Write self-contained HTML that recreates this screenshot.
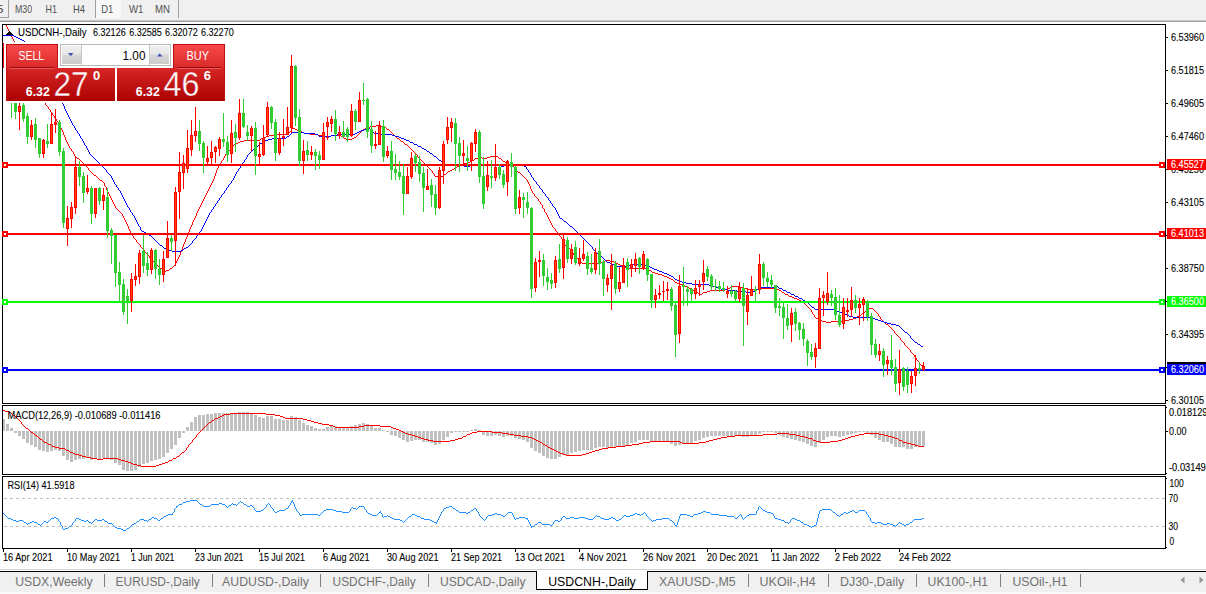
<!DOCTYPE html>
<html><head><meta charset="utf-8"><title>USDCNH-,Daily</title>
<style>html,body{margin:0;padding:0;background:#fff;overflow:hidden}svg{display:block}text{font-family:"Liberation Sans",sans-serif;white-space:pre}</style>
</head><body>
<svg width="1206" height="594" viewBox="0 0 1206 594">
<defs>
<linearGradient id="gTab" x1="0" y1="0" x2="0" y2="1"><stop offset="0" stop-color="#f94b4b"/><stop offset="1" stop-color="#d92a2a"/></linearGradient>
<linearGradient id="gPan" x1="0" y1="0" x2="0" y2="1"><stop offset="0" stop-color="#d62626"/><stop offset="1" stop-color="#ad0202"/></linearGradient>
<linearGradient id="gBtn" x1="0" y1="0" x2="0" y2="1"><stop offset="0" stop-color="#efefef"/><stop offset="0.45" stop-color="#e6e6e6"/><stop offset="0.5" stop-color="#d8d8d8"/><stop offset="1" stop-color="#cccccc"/></linearGradient>
<linearGradient id="gPanU" gradientUnits="userSpaceOnUse" x1="0" y1="68" x2="0" y2="101"><stop offset="0" stop-color="#d62626"/><stop offset="1" stop-color="#ad0202"/></linearGradient>
<clipPath id="cMain"><path d="M3 25H1165V403H3Z M4 42H227V103H4Z" clip-rule="evenodd"/></clipPath>
</defs>
<rect x="0" y="0" width="1206" height="594" fill="#fff" />
<rect x="0" y="0" width="1206" height="20" fill="#f0f0f0" />
<rect x="0" y="20" width="1206" height="1" fill="#c8c8c8" />
<rect x="0" y="21" width="1206" height="1" fill="#a0a0a0" />
<rect x="8" y="0" width="1" height="18" fill="#a0a0a0" />
<rect x="0" y="17" width="9" height="1" fill="#a0a0a0" />
<text x="-3.5" y="12.5" font-size="11" fill="#444" textLength="7" lengthAdjust="spacingAndGlyphs" >5</text>
<rect x="96" y="0" width="25" height="18" fill="#f8f8f8"/>
<rect x="95" y="0" width="1" height="18" fill="#a0a0a0" />
<text x="15" y="12.5" font-size="11" fill="#505050" textLength="17" lengthAdjust="spacingAndGlyphs" >M30</text>
<text x="45.5" y="12.5" font-size="11" fill="#505050" textLength="11.5" lengthAdjust="spacingAndGlyphs" >H1</text>
<text x="73" y="12.5" font-size="11" fill="#505050" textLength="12" lengthAdjust="spacingAndGlyphs" >H4</text>
<text x="101.3" y="12.5" font-size="11" fill="#505050" textLength="12" lengthAdjust="spacingAndGlyphs" >D1</text>
<text x="129" y="12.5" font-size="11" fill="#505050" textLength="14.5" lengthAdjust="spacingAndGlyphs" >W1</text>
<text x="155" y="12.5" font-size="11" fill="#505050" textLength="15" lengthAdjust="spacingAndGlyphs" >MN</text>
<rect x="178" y="0" width="1" height="18" fill="#a0a0a0" />
<g shape-rendering="crispEdges">
<rect x="2" y="24" width="1164" height="1" fill="#000" />
<rect x="2" y="24" width="1" height="525" fill="#000" />
<rect x="1165" y="24" width="1" height="525" fill="#000" />
<rect x="2" y="403" width="1164" height="1" fill="#000" />
<rect x="2" y="405" width="1164" height="1" fill="#000" />
<rect x="2" y="474" width="1164" height="1" fill="#000" />
<rect x="2" y="476" width="1164" height="1" fill="#000" />
<rect x="2" y="548" width="1164" height="1" fill="#000" />
<rect x="2" y="404" width="1164" height="1" fill="#fff" />
<rect x="2" y="475" width="1164" height="1" fill="#fff" />
</g>
<g shape-rendering="crispEdges">
<rect x="1166" y="37" width="2" height="1" fill="#000" />
<rect x="1166" y="70" width="2" height="1" fill="#000" />
<rect x="1166" y="103" width="2" height="1" fill="#000" />
<rect x="1166" y="136" width="2" height="1" fill="#000" />
<rect x="1166" y="169" width="2" height="1" fill="#000" />
<rect x="1166" y="202" width="2" height="1" fill="#000" />
<rect x="1166" y="235" width="2" height="1" fill="#000" />
<rect x="1166" y="268" width="2" height="1" fill="#000" />
<rect x="1166" y="301" width="2" height="1" fill="#000" />
<rect x="1166" y="334" width="2" height="1" fill="#000" />
<rect x="1166" y="367" width="2" height="1" fill="#000" />
<rect x="1166" y="400" width="2" height="1" fill="#000" />
<rect x="1166" y="431" width="2" height="1" fill="#000" />
<rect x="1166" y="407" width="1" height="1" fill="#000" />
<rect x="1166" y="473" width="1" height="1" fill="#000" />
<rect x="1166" y="478" width="1" height="1" fill="#000" />
<rect x="1166" y="547" width="1" height="1" fill="#000" />
<rect x="3" y="549" width="1" height="3" fill="#000" />
<rect x="67" y="549" width="1" height="3" fill="#000" />
<rect x="131" y="549" width="1" height="3" fill="#000" />
<rect x="195" y="549" width="1" height="3" fill="#000" />
<rect x="259" y="549" width="1" height="3" fill="#000" />
<rect x="323" y="549" width="1" height="3" fill="#000" />
<rect x="387" y="549" width="1" height="3" fill="#000" />
<rect x="451" y="549" width="1" height="3" fill="#000" />
<rect x="515" y="549" width="1" height="3" fill="#000" />
<rect x="579" y="549" width="1" height="3" fill="#000" />
<rect x="643" y="549" width="1" height="3" fill="#000" />
<rect x="707" y="549" width="1" height="3" fill="#000" />
<rect x="771" y="549" width="1" height="3" fill="#000" />
<rect x="835" y="549" width="1" height="3" fill="#000" />
<rect x="899" y="549" width="1" height="3" fill="#000" />
</g>
<text x="1171" y="41" font-size="10.4" fill="#000" textLength="33" lengthAdjust="spacingAndGlyphs"  stroke="#000" stroke-width="0.1">6.53960</text>
<text x="1171" y="74" font-size="10.4" fill="#000" textLength="33" lengthAdjust="spacingAndGlyphs"  stroke="#000" stroke-width="0.1">6.51815</text>
<text x="1171" y="107" font-size="10.4" fill="#000" textLength="33" lengthAdjust="spacingAndGlyphs"  stroke="#000" stroke-width="0.1">6.49605</text>
<text x="1171" y="140" font-size="10.4" fill="#000" textLength="33" lengthAdjust="spacingAndGlyphs"  stroke="#000" stroke-width="0.1">6.47460</text>
<text x="1171" y="173" font-size="10.4" fill="#000" textLength="33" lengthAdjust="spacingAndGlyphs"  stroke="#000" stroke-width="0.1">6.45250</text>
<text x="1171" y="206" font-size="10.4" fill="#000" textLength="33" lengthAdjust="spacingAndGlyphs"  stroke="#000" stroke-width="0.1">6.43105</text>
<text x="1171" y="239" font-size="10.4" fill="#000" textLength="33" lengthAdjust="spacingAndGlyphs"  stroke="#000" stroke-width="0.1">6.40895</text>
<text x="1171" y="272" font-size="10.4" fill="#000" textLength="33" lengthAdjust="spacingAndGlyphs"  stroke="#000" stroke-width="0.1">6.38750</text>
<text x="1171" y="305" font-size="10.4" fill="#000" textLength="33" lengthAdjust="spacingAndGlyphs"  stroke="#000" stroke-width="0.1">6.36540</text>
<text x="1171" y="338" font-size="10.4" fill="#000" textLength="33" lengthAdjust="spacingAndGlyphs"  stroke="#000" stroke-width="0.1">6.34395</text>
<text x="1171" y="371" font-size="10.4" fill="#000" textLength="33" lengthAdjust="spacingAndGlyphs"  stroke="#000" stroke-width="0.1">6.32185</text>
<text x="1171" y="404" font-size="10.4" fill="#000" textLength="33" lengthAdjust="spacingAndGlyphs"  stroke="#000" stroke-width="0.1">6.30105</text>
<text x="1169" y="416" font-size="10.4" fill="#000" textLength="38.5" lengthAdjust="spacingAndGlyphs"  stroke="#000" stroke-width="0.1">0.018129</text>
<text x="1169" y="435" font-size="10.4" fill="#000" textLength="17.5" lengthAdjust="spacingAndGlyphs"  stroke="#000" stroke-width="0.1">0.00</text>
<text x="1169" y="471" font-size="10.4" fill="#000" textLength="42" lengthAdjust="spacingAndGlyphs"  stroke="#000" stroke-width="0.1">-0.031494</text>
<text x="1169.5" y="487" font-size="10.4" fill="#000" textLength="14.2" lengthAdjust="spacingAndGlyphs"  stroke="#000" stroke-width="0.1">100</text>
<text x="1168.5" y="502" font-size="10.4" fill="#000" textLength="9.5" lengthAdjust="spacingAndGlyphs"  stroke="#000" stroke-width="0.1">70</text>
<text x="1168.5" y="530" font-size="10.4" fill="#000" textLength="9.5" lengthAdjust="spacingAndGlyphs"  stroke="#000" stroke-width="0.1">30</text>
<text x="1169.5" y="545" font-size="10.4" fill="#000" textLength="4.6" lengthAdjust="spacingAndGlyphs"  stroke="#000" stroke-width="0.1">0</text>
<text x="3" y="561" font-size="10.4" fill="#000" textLength="49.5" lengthAdjust="spacingAndGlyphs"  stroke="#000" stroke-width="0.1">16 Apr 2021</text>
<text x="67" y="561" font-size="10.4" fill="#000" textLength="53" lengthAdjust="spacingAndGlyphs"  stroke="#000" stroke-width="0.1">10 May 2021</text>
<text x="131" y="561" font-size="10.4" fill="#000" textLength="43.5" lengthAdjust="spacingAndGlyphs"  stroke="#000" stroke-width="0.1">1 Jun 2021</text>
<text x="195" y="561" font-size="10.4" fill="#000" textLength="48.5" lengthAdjust="spacingAndGlyphs"  stroke="#000" stroke-width="0.1">23 Jun 2021</text>
<text x="259" y="561" font-size="10.4" fill="#000" textLength="46" lengthAdjust="spacingAndGlyphs"  stroke="#000" stroke-width="0.1">15 Jul 2021</text>
<text x="323" y="561" font-size="10.4" fill="#000" textLength="46.5" lengthAdjust="spacingAndGlyphs"  stroke="#000" stroke-width="0.1">6 Aug 2021</text>
<text x="387" y="561" font-size="10.4" fill="#000" textLength="51.5" lengthAdjust="spacingAndGlyphs"  stroke="#000" stroke-width="0.1">30 Aug 2021</text>
<text x="451" y="561" font-size="10.4" fill="#000" textLength="51" lengthAdjust="spacingAndGlyphs"  stroke="#000" stroke-width="0.1">21 Sep 2021</text>
<text x="515" y="561" font-size="10.4" fill="#000" textLength="50" lengthAdjust="spacingAndGlyphs"  stroke="#000" stroke-width="0.1">13 Oct 2021</text>
<text x="579" y="561" font-size="10.4" fill="#000" textLength="48" lengthAdjust="spacingAndGlyphs"  stroke="#000" stroke-width="0.1">4 Nov 2021</text>
<text x="643" y="561" font-size="10.4" fill="#000" textLength="53" lengthAdjust="spacingAndGlyphs"  stroke="#000" stroke-width="0.1">26 Nov 2021</text>
<text x="707" y="561" font-size="10.4" fill="#000" textLength="51.5" lengthAdjust="spacingAndGlyphs"  stroke="#000" stroke-width="0.1">20 Dec 2021</text>
<text x="771" y="561" font-size="10.4" fill="#000" textLength="48.5" lengthAdjust="spacingAndGlyphs"  stroke="#000" stroke-width="0.1">11 Jan 2022</text>
<text x="835" y="561" font-size="10.4" fill="#000" textLength="46" lengthAdjust="spacingAndGlyphs"  stroke="#000" stroke-width="0.1">2 Feb 2022</text>
<text x="899" y="561" font-size="10.4" fill="#000" textLength="52" lengthAdjust="spacingAndGlyphs"  stroke="#000" stroke-width="0.1">24 Feb 2022</text>
<g shape-rendering="crispEdges">
<path d="M4 498.5H1165" stroke="#c0c0c0" stroke-width="1" stroke-dasharray="3 3" fill="none"/>
<path d="M4 526.5H1165" stroke="#c0c0c0" stroke-width="1" stroke-dasharray="3 3" fill="none"/>
<path d="M3 419h2V431h-2zM6 424h3V431h-3zM10 428h3V431h-3zM14 431h3V433h-3zM18 431h3V436h-3zM22 431h3V439h-3zM26 431h3V443h-3zM30 431h3V445h-3zM34 431h3V447h-3zM38 431h3V450h-3zM42 431h3V451h-3zM46 431h3V452h-3zM50 431h3V451h-3zM54 431h3V450h-3zM58 431h3V451h-3zM62 431h3V456h-3zM66 431h3V460h-3zM70 431h3V462h-3zM74 431h3V460h-3zM78 431h3V459h-3zM82 431h3V459h-3zM86 431h3V458h-3zM90 431h3V460h-3zM94 431h3V459h-3zM98 431h3V459h-3zM102 431h3V458h-3zM106 431h3V459h-3zM110 431h3V460h-3zM114 431h3V463h-3zM118 431h3V465h-3zM122 431h3V470h-3zM126 431h3V471h-3zM130 431h3V471h-3zM134 431h3V470h-3zM138 431h3V467h-3zM142 431h3V464h-3zM146 431h3V463h-3zM150 431h3V461h-3zM154 431h3V460h-3zM158 431h3V459h-3zM162 431h3V457h-3zM166 431h3V453h-3zM170 431h3V449h-3zM174 431h3V445h-3zM178 431h3V438h-3zM182 431h3V433h-3zM186 427h3V431h-3zM190 422h3V431h-3zM194 417h3V431h-3zM198 415h3V431h-3zM202 415h3V431h-3zM206 414h3V431h-3zM210 414h3V431h-3zM214 413h3V431h-3zM218 413h3V431h-3zM222 413h3V431h-3zM226 413h3V431h-3zM230 413h3V431h-3zM234 413h3V431h-3zM238 412h3V431h-3zM242 412h3V431h-3zM246 412h3V431h-3zM250 413h3V431h-3zM254 415h3V431h-3zM258 417h3V431h-3zM262 418h3V431h-3zM266 416h3V431h-3zM270 416h3V431h-3zM274 419h3V431h-3zM278 419h3V431h-3zM282 420h3V431h-3zM286 420h3V431h-3zM290 416h3V431h-3zM294 417h3V431h-3zM298 420h3V431h-3zM302 423h3V431h-3zM306 425h3V431h-3zM310 426h3V431h-3zM314 428h3V431h-3zM318 429h3V431h-3zM322 429h3V431h-3zM326 427h3V431h-3zM330 426h3V431h-3zM334 426h3V431h-3zM338 427h3V431h-3zM342 427h3V431h-3zM346 427h3V431h-3zM350 426h3V431h-3zM354 425h3V431h-3zM358 424h3V431h-3zM362 423h3V431h-3zM366 424h3V431h-3zM370 426h3V431h-3zM374 428h3V431h-3zM378 428h3V431h-3zM382 430h3V431h-3zM386 431h3V432h-3zM390 431h3V435h-3zM394 431h3V436h-3zM398 431h3V438h-3zM402 431h3V440h-3zM406 431h3V442h-3zM410 431h3V441h-3zM414 431h3V440h-3zM418 431h3V440h-3zM422 431h3V442h-3zM426 431h3V442h-3zM430 431h3V443h-3zM434 431h3V445h-3zM438 431h3V444h-3zM442 431h3V440h-3zM446 431h3V437h-3zM450 431h3V433h-3zM454 431h3V432h-3zM458 431h3V432h-3zM462 431h3V432h-3zM466 431h3V432h-3zM470 430h3V431h-3zM474 429h3V431h-3zM478 430h3V431h-3zM482 431h3V435h-3zM486 431h3V436h-3zM490 431h3V436h-3zM494 431h3V435h-3zM498 431h3V436h-3zM502 431h3V437h-3zM506 431h3V436h-3zM510 431h3V436h-3zM514 431h3V438h-3zM518 431h3V439h-3zM522 431h3V440h-3zM526 431h3V442h-3zM530 431h3V448h-3zM534 431h3V451h-3zM538 431h3V453h-3zM542 431h3V456h-3zM546 431h3V458h-3zM550 431h3V459h-3zM554 431h3V459h-3zM558 431h3V457h-3zM562 431h3V455h-3zM566 431h3V455h-3zM570 431h3V453h-3zM574 431h3V452h-3zM578 431h3V451h-3zM582 431h3V450h-3zM586 431h3V450h-3zM590 431h3V450h-3zM594 431h3V448h-3zM598 431h3V447h-3zM602 431h3V447h-3zM606 431h3V448h-3zM610 431h3V447h-3zM614 431h3V447h-3zM618 431h3V447h-3zM622 431h3V446h-3zM626 431h3V445h-3zM630 431h3V443h-3zM634 431h3V442h-3zM638 431h3V440h-3zM642 431h3V440h-3zM646 431h3V440h-3zM650 431h3V441h-3zM654 431h3V441h-3zM658 431h3V442h-3zM662 431h3V442h-3zM666 431h3V442h-3zM670 431h3V444h-3zM674 431h3V446h-3zM678 431h3V445h-3zM682 431h3V444h-3zM686 431h3V444h-3zM690 431h3V443h-3zM694 431h3V441h-3zM698 431h3V440h-3zM702 431h3V438h-3zM706 431h3V437h-3zM710 431h3V436h-3zM714 431h3V436h-3zM718 431h3V436h-3zM722 431h3V436h-3zM726 431h3V436h-3zM730 431h3V436h-3zM734 431h3V436h-3zM738 431h3V436h-3zM742 431h3V437h-3zM746 431h3V437h-3zM750 431h3V436h-3zM754 431h3V436h-3zM758 431h3V434h-3zM762 431h3V432h-3zM766 431h3V432h-3zM770 431h3V432h-3zM774 431h3V433h-3zM778 431h3V435h-3zM782 431h3V437h-3zM786 431h3V438h-3zM790 431h3V439h-3zM794 431h3V440h-3zM798 431h3V441h-3zM802 431h3V442h-3zM806 431h3V444h-3zM810 431h3V446h-3zM814 431h3V447h-3zM818 431h3V443h-3zM822 431h3V440h-3zM826 431h3V437h-3zM830 431h3V436h-3zM834 431h3V436h-3zM838 431h3V437h-3zM842 431h3V436h-3zM846 431h3V435h-3zM850 431h3V434h-3zM854 431h3V433h-3zM858 431h3V432h-3zM862 431h3V432h-3zM866 431h3V433h-3zM870 431h3V435h-3zM874 431h3V438h-3zM878 431h3V440h-3zM882 431h3V442h-3zM886 431h3V442h-3zM890 431h3V444h-3zM894 431h3V447h-3zM898 431h3V447h-3zM902 431h3V447h-3zM906 431h3V449h-3zM910 431h3V449h-3zM914 431h3V447h-3zM918 431h3V447h-3zM922 431h3V446h-3z" fill="#c0c0c0"/>
<path d="M329 425h4v1h-4zM364 425h16v1h-16zM556 451h2v1h-2zM592 451h3v1h-3zM433 441h17v1h-17zM538 441h2v1h-2zM650 441h30v1h-30zM706 441h3v1h-3zM816 441h4v1h-4zM830 441h8v1h-8zM421 438h3v1h-3zM458 438h4v1h-4zM532 438h2v1h-2zM717 438h4v1h-4zM808 438h4v1h-4zM845 438h3v1h-3zM895 438h3v1h-3zM82 456h4v1h-4zM177 456h2v1h-2zM428 440h5v1h-5zM450 440h5v1h-5zM536 440h2v1h-2zM709 440h4v1h-4zM813 440h3v1h-3zM838 440h4v1h-4zM899 440h3v1h-3zM66 450h3v1h-3zM554 450h2v1h-2zM595 450h4v1h-4zM52 446h3v1h-3zM616 446h9v1h-9zM918 446h6v1h-6zM545 445h2v1h-2zM625 445h7v1h-7zM915 445h3v1h-3zM415 436h3v1h-3zM463 436h3v1h-3zM521 436h7v1h-7zM727 436h8v1h-8zM800 436h5v1h-5zM851 436h4v1h-4zM888 436h4v1h-4zM405 433h3v1h-3zM470 433h2v1h-2zM502 433h7v1h-7zM777 433h12v1h-12zM864 433h15v1h-15zM31 432h2v1h-2zM403 432h2v1h-2zM472 432h5v1h-5zM492 432h10v1h-10zM35 435h2v1h-2zM412 435h3v1h-3zM514 435h7v1h-7zM735 435h28v1h-28zM796 435h4v1h-4zM855 435h4v1h-4zM884 435h4v1h-4zM230 413h36v1h-36zM13 415h2v1h-2zM222 415h2v1h-2zM275 415h5v1h-5zM335 427h24v1h-24zM391 427h2v1h-2zM401 431h2v1h-2zM477 431h15v1h-15zM552 449h2v1h-2zM599 449h3v1h-3zM44 442h3v1h-3zM540 442h2v1h-2zM643 442h7v1h-7zM680 442h2v1h-2zM699 442h7v1h-7zM820 442h10v1h-10zM903 442h4v1h-4zM220 416h2v1h-2zM280 416h3v1h-3zM75 454h4v1h-4zM563 454h3v1h-3zM582 454h4v1h-4zM322 424h7v1h-7zM141 466h15v1h-15zM215 418h3v1h-3zM285 418h18v1h-18zM408 434h4v1h-4zM467 434h3v1h-3zM509 434h5v1h-5zM763 434h14v1h-14zM789 434h7v1h-7zM859 434h5v1h-5zM879 434h5v1h-5zM224 414h6v1h-6zM266 414h9v1h-9zM318 423h4v1h-4zM59 448h6v1h-6zM550 448h2v1h-2zM602 448h6v1h-6zM79 455h3v1h-3zM566 455h16v1h-16zM333 426h2v1h-2zM359 426h5v1h-5zM380 426h11v1h-11zM303 419h4v1h-4zM48 444h3v1h-3zM543 444h2v1h-2zM632 444h7v1h-7zM911 444h4v1h-4zM639 443h4v1h-4zM682 443h17v1h-17zM907 443h4v1h-4zM418 437h3v1h-3zM528 437h4v1h-4zM721 437h6v1h-6zM805 437h3v1h-3zM848 437h3v1h-3zM892 437h3v1h-3zM311 421h3v1h-3zM40 439h2v1h-2zM424 439h4v1h-4zM455 439h3v1h-3zM534 439h2v1h-2zM713 439h4v1h-4zM842 439h3v1h-3zM91 458h6v1h-6zM103 458h15v1h-15zM173 458h3v1h-3zM3 410h2v1h-2zM133 464h4v1h-4zM159 464h3v1h-3zM121 460h4v1h-4zM169 460h3v1h-3zM55 447h4v1h-4zM548 447h2v1h-2zM608 447h8v1h-8zM97 459h6v1h-6zM118 459h3v1h-3zM73 453h2v1h-2zM560 453h3v1h-3zM586 453h3v1h-3zM209 422h2v1h-2zM314 422h4v1h-4zM9 412h2v1h-2zM125 461h3v1h-3zM396 429h3v1h-3zM70 452h3v1h-3zM182 452h2v1h-2zM558 452h2v1h-2zM589 452h3v1h-3zM399 430h2v1h-2zM26 428h2v1h-2zM393 428h3v1h-3zM86 457h5v1h-5zM137 465h4v1h-4zM156 465h3v1h-3zM218 417h2v1h-2zM283 417h2v1h-2zM212 420h2v1h-2zM307 420h4v1h-4zM128 462h3v1h-3zM165 462h3v1h-3zM131 463h2v1h-2zM162 463h3v1h-3zM5 411h4v1h-4zM23 425h1v1h-1zM206 425h1v1h-1zM69 451h1v1h-1zM184 451h1v1h-1zM43 441h1v1h-1zM192 440h1v2h-1zM902 441h1v1h-1zM39 438h1v1h-1zM194 438h1v1h-1zM42 440h1v1h-1zM185 450h1v1h-1zM188 445h1v2h-1zM547 446h1v1h-1zM51 445h1v1h-1zM37 436h1v1h-1zM196 435h1v2h-1zM33 433h1v1h-1zM198 433h1v1h-1zM199 432h1v1h-1zM466 435h1v1h-1zM11 413h1v1h-1zM25 427h1v1h-1zM204 427h1v1h-1zM30 431h1v1h-1zM200 431h1v1h-1zM65 449h1v1h-1zM186 448h1v2h-1zM191 442h1v1h-1zM15 416h1v1h-1zM180 454h1v1h-1zM22 424h1v1h-1zM207 424h1v1h-1zM17 418h1v1h-1zM34 434h1v1h-1zM197 434h1v1h-1zM12 414h1v1h-1zM21 422h1v2h-1zM208 423h1v1h-1zM179 455h1v1h-1zM24 426h1v1h-1zM205 426h1v1h-1zM18 419h1v1h-1zM214 419h1v1h-1zM189 444h1v1h-1zM47 443h1v1h-1zM190 443h1v1h-1zM542 443h1v1h-1zM38 437h1v1h-1zM195 437h1v1h-1zM462 437h1v1h-1zM20 421h1v1h-1zM211 421h1v1h-1zM193 439h1v1h-1zM812 439h1v1h-1zM898 439h1v1h-1zM187 447h1v1h-1zM172 459h1v1h-1zM181 453h1v1h-1zM168 461h1v1h-1zM28 429h1v1h-1zM202 429h1v1h-1zM29 430h1v1h-1zM201 430h1v1h-1zM203 428h1v1h-1zM176 457h1v1h-1zM16 417h1v1h-1zM19 420h1v1h-1z" fill="#ff0000"/>
<path d="M24 522h2v1h-2zM30 522h2v1h-2zM34 522h3v1h-3zM46 522h2v1h-2zM89 522h2v1h-2zM434 522h3v1h-3zM538 522h3v1h-3zM785 522h3v1h-3zM801 522h2v1h-2zM872 522h3v1h-3zM877 522h4v1h-4zM910 522h2v1h-2zM38 524h2v1h-2zM132 524h2v1h-2zM535 524h2v1h-2zM542 524h8v1h-8zM804 524h3v1h-3zM883 524h4v1h-4zM890 524h3v1h-3zM902 524h2v1h-2zM906 524h3v1h-3zM16 521h3v1h-3zM32 521h2v1h-2zM44 521h2v1h-2zM84 521h2v1h-2zM105 521h2v1h-2zM137 521h2v1h-2zM432 521h2v1h-2zM558 521h2v1h-2zM229 505h2v1h-2zM250 505h2v1h-2zM286 508h2v1h-2zM353 508h3v1h-3zM444 508h2v1h-2zM453 508h2v1h-2zM474 508h2v1h-2zM256 511h5v1h-5zM277 511h2v1h-2zM336 511h6v1h-6zM703 511h3v1h-3zM765 511h2v1h-2zM850 511h2v1h-2zM166 515h2v1h-2zM300 515h2v1h-2zM318 515h2v1h-2zM372 515h5v1h-5zM415 515h2v1h-2zM488 515h4v1h-4zM501 515h2v1h-2zM624 515h2v1h-2zM630 515h3v1h-3zM687 515h3v1h-3zM719 515h8v1h-8zM747 515h2v1h-2zM837 515h2v1h-2zM8 518h3v1h-3zM51 518h3v1h-3zM56 518h2v1h-2zM76 518h3v1h-3zM154 518h3v1h-3zM161 518h2v1h-2zM392 518h2v1h-2zM421 518h3v1h-3zM516 518h3v1h-3zM525 518h3v1h-3zM566 518h4v1h-4zM574 518h5v1h-5zM585 518h3v1h-3zM601 518h3v1h-3zM609 518h2v1h-2zM613 518h2v1h-2zM662 518h7v1h-7zM735 518h2v1h-2zM775 518h3v1h-3zM792 518h3v1h-3zM922 518h2v1h-2zM168 514h5v1h-5zM302 514h16v1h-16zM370 514h2v1h-2zM412 514h3v1h-3zM492 514h3v1h-3zM497 514h4v1h-4zM633 514h2v1h-2zM637 514h3v1h-3zM641 514h2v1h-2zM680 514h7v1h-7zM694 514h4v1h-4zM711 514h8v1h-8zM749 514h7v1h-7zM841 514h2v1h-2zM13 520h3v1h-3zM19 520h4v1h-4zM81 520h3v1h-3zM86 520h2v1h-2zM97 520h5v1h-5zM144 520h3v1h-3zM158 520h2v1h-2zM400 520h2v1h-2zM430 520h2v1h-2zM555 520h3v1h-3zM616 520h3v1h-3zM653 520h3v1h-3zM670 520h2v1h-2zM781 520h3v1h-3zM797 520h3v1h-3zM11 519h2v1h-2zM79 519h2v1h-2zM95 519h2v1h-2zM102 519h2v1h-2zM140 519h4v1h-4zM149 519h2v1h-2zM394 519h6v1h-6zM424 519h6v1h-6zM588 519h5v1h-5zM604 519h5v1h-5zM619 519h2v1h-2zM656 519h6v1h-6zM778 519h3v1h-3zM795 519h2v1h-2zM914 519h8v1h-8zM164 516h2v1h-2zM384 516h3v1h-3zM388 516h2v1h-2zM409 516h2v1h-2zM417 516h3v1h-3zM503 516h2v1h-2zM563 516h2v1h-2zM597 516h3v1h-3zM626 516h4v1h-4zM690 516h3v1h-3zM727 516h7v1h-7zM179 504h3v1h-3zM200 504h2v1h-2zM211 504h8v1h-8zM222 504h3v1h-3zM233 504h3v1h-3zM244 504h2v1h-2zM69 526h2v1h-2zM531 526h3v1h-3zM809 526h2v1h-2zM812 526h2v1h-2zM190 500h7v1h-7zM275 512h2v1h-2zM342 512h7v1h-7zM379 512h2v1h-2zM459 512h7v1h-7zM468 512h2v1h-2zM508 512h4v1h-4zM701 512h2v1h-2zM706 512h4v1h-4zM767 512h4v1h-4zM833 512h2v1h-2zM844 512h2v1h-2zM848 512h2v1h-2zM855 512h3v1h-3zM28 523h2v1h-2zM108 523h4v1h-4zM134 523h2v1h-2zM875 523h2v1h-2zM881 523h2v1h-2zM887 523h3v1h-3zM900 523h2v1h-2zM176 506h2v1h-2zM203 506h7v1h-7zM247 506h3v1h-3zM359 506h5v1h-5zM449 506h3v1h-3zM123 530h3v1h-3zM326 509h7v1h-7zM822 509h9v1h-9zM219 503h3v1h-3zM368 513h2v1h-2zM466 513h2v1h-2zM495 513h2v1h-2zM635 513h2v1h-2zM698 513h3v1h-3zM771 513h2v1h-2zM846 513h2v1h-2zM54 517h2v1h-2zM152 517h2v1h-2zM390 517h2v1h-2zM519 517h6v1h-6zM570 517h4v1h-4zM579 517h6v1h-6zM611 517h2v1h-2zM261 510h2v1h-2zM279 510h6v1h-6zM324 510h2v1h-2zM333 510h3v1h-3zM456 510h2v1h-2zM471 510h2v1h-2zM763 510h2v1h-2zM820 510h2v1h-2zM852 510h2v1h-2zM859 510h6v1h-6zM115 527h2v1h-2zM550 525h2v1h-2zM675 525h2v1h-2zM807 525h2v1h-2zM814 525h2v1h-2zM893 525h2v1h-2zM904 525h2v1h-2zM446 507h3v1h-3zM65 528h3v1h-3zM117 528h4v1h-4zM127 528h2v1h-2zM186 501h4v1h-4zM291 501h2v1h-2zM183 502h3v1h-3zM241 502h2v1h-2zM63 529h2v1h-2zM121 529h2v1h-2zM43 522h1v1h-1zM60 522h1v3h-1zM73 522h1v1h-1zM92 522h1v1h-1zM107 522h1v1h-1zM136 522h1v1h-1zM403 522h1v1h-1zM529 522h1v2h-1zM553 522h1v2h-1zM673 522h1v1h-1zM677 522h1v3h-1zM789 522h1v1h-1zM816 522h1v3h-1zM899 522h1v1h-1zM27 524h1v1h-1zM41 524h1v1h-1zM72 523h1v2h-1zM112 524h1v1h-1zM530 524h1v2h-1zM552 524h1v1h-1zM674 523h1v2h-1zM897 524h1v1h-1zM23 521h1v1h-1zM48 521h1v1h-1zM59 521h1v1h-1zM74 521h1v1h-1zM88 521h1v1h-1zM93 521h1v1h-1zM147 521h1v1h-1zM402 521h1v1h-1zM404 521h1v1h-1zM437 520h1v2h-1zM528 520h1v2h-1zM554 521h1v1h-1zM652 521h1v1h-1zM672 521h1v1h-1zM678 519h1v3h-1zM784 521h1v1h-1zM790 520h1v2h-1zM800 521h1v1h-1zM817 518h1v4h-1zM871 521h1v1h-1zM912 521h1v1h-1zM178 505h1v1h-1zM202 505h1v1h-1zM210 505h1v1h-1zM225 505h1v1h-1zM236 505h1v1h-1zM246 505h1v1h-1zM266 505h1v2h-1zM270 505h1v2h-1zM289 505h1v1h-1zM294 504h1v3h-1zM175 508h1v1h-1zM254 508h1v2h-1zM264 508h1v1h-1zM272 508h1v1h-1zM295 507h1v2h-1zM351 508h1v1h-1zM357 508h1v1h-1zM364 507h1v2h-1zM758 507h1v3h-1zM761 508h1v1h-1zM174 509h1v3h-1zM274 511h1v1h-1zM297 511h1v1h-1zM323 511h1v1h-1zM349 511h1v1h-1zM366 510h1v2h-1zM380 511h1v1h-1zM442 511h1v1h-1zM458 511h1v1h-1zM470 511h1v1h-1zM477 511h1v1h-1zM756 511h1v3h-1zM819 511h1v3h-1zM832 511h1v1h-1zM854 511h1v1h-1zM858 511h1v1h-1zM865 511h1v1h-1zM5 515h1v1h-1zM382 514h1v3h-1zM387 515h1v1h-1zM411 515h1v1h-1zM440 514h1v2h-1zM479 514h1v2h-1zM505 515h1v1h-1zM513 515h1v2h-1zM596 515h1v1h-1zM640 515h1v1h-1zM646 514h1v2h-1zM680 515h1v1h-1zM693 515h1v1h-1zM739 515h1v1h-1zM741 515h1v2h-1zM773 514h1v2h-1zM818 514h1v4h-1zM840 515h1v1h-1zM868 515h1v2h-1zM151 518h1v1h-1zM407 518h1v1h-1zM438 518h1v2h-1zM482 518h1v1h-1zM486 517h1v2h-1zM514 517h1v2h-1zM561 518h1v2h-1zM593 518h1v1h-1zM621 518h1v1h-1zM649 518h1v1h-1zM679 516h1v3h-1zM742 517h1v2h-1zM744 518h1v1h-1zM870 518h1v3h-1zM4 514h1v1h-1zM299 513h1v2h-1zM320 514h1v1h-1zM377 514h1v1h-1zM506 514h1v1h-1zM512 513h1v2h-1zM740 514h1v1h-1zM836 514h1v1h-1zM867 514h1v1h-1zM49 520h1v1h-1zM58 519h1v2h-1zM75 519h1v2h-1zM94 520h1v1h-1zM104 520h1v1h-1zM139 520h1v1h-1zM148 520h1v1h-1zM405 520h1v1h-1zM484 520h1v1h-1zM560 520h1v1h-1zM651 520h1v1h-1zM913 520h1v1h-1zM50 519h1v1h-1zM157 519h1v1h-1zM160 519h1v1h-1zM406 519h1v1h-1zM483 519h1v1h-1zM485 519h1v1h-1zM515 519h1v1h-1zM527 519h1v1h-1zM615 519h1v1h-1zM650 519h1v1h-1zM669 519h1v1h-1zM743 519h1v1h-1zM791 519h1v1h-1zM6 516h1v1h-1zM439 516h1v2h-1zM480 516h1v1h-1zM487 516h1v1h-1zM595 516h1v1h-1zM623 516h1v1h-1zM647 516h1v1h-1zM738 516h1v1h-1zM746 516h1v1h-1zM774 516h1v2h-1zM839 516h1v1h-1zM231 504h1v1h-1zM237 504h1v1h-1zM267 504h1v1h-1zM269 504h1v1h-1zM290 503h1v2h-1zM62 526h1v3h-1zM114 526h1v1h-1zM130 526h1v1h-1zM676 526h1v1h-1zM895 526h1v1h-1zM292 500h1v1h-1zM173 512h1v1h-1zM298 512h1v1h-1zM322 512h1v1h-1zM367 512h1v1h-1zM441 512h1v2h-1zM478 512h1v2h-1zM644 512h1v1h-1zM866 512h1v2h-1zM26 523h1v1h-1zM37 523h1v1h-1zM42 523h1v1h-1zM91 523h1v1h-1zM436 523h1v1h-1zM537 523h1v1h-1zM541 523h1v1h-1zM788 523h1v1h-1zM803 523h1v1h-1zM898 523h1v1h-1zM909 523h1v1h-1zM226 506h1v1h-1zM228 506h1v1h-1zM252 506h1v1h-1zM288 506h1v2h-1zM759 506h1v1h-1zM263 509h1v1h-1zM273 509h1v2h-1zM285 509h1v1h-1zM296 509h1v2h-1zM350 509h1v2h-1zM356 509h1v1h-1zM365 509h1v1h-1zM443 509h1v2h-1zM455 509h1v1h-1zM473 509h1v1h-1zM476 509h1v2h-1zM762 509h1v1h-1zM182 503h1v1h-1zM199 503h1v1h-1zM232 503h1v1h-1zM238 503h1v1h-1zM243 503h1v1h-1zM268 503h1v1h-1zM293 502h1v2h-1zM3 513h1v1h-1zM172 513h1v1h-1zM321 513h1v1h-1zM378 513h1v1h-1zM381 513h1v1h-1zM507 513h1v1h-1zM643 513h1v1h-1zM645 513h1v1h-1zM710 513h1v1h-1zM835 513h1v1h-1zM843 513h1v1h-1zM7 517h1v1h-1zM163 517h1v1h-1zM383 517h1v1h-1zM408 517h1v1h-1zM420 517h1v1h-1zM481 517h1v1h-1zM562 517h1v1h-1zM565 517h1v1h-1zM594 517h1v1h-1zM600 517h1v1h-1zM622 517h1v1h-1zM648 517h1v1h-1zM734 517h1v1h-1zM737 517h1v1h-1zM745 517h1v1h-1zM869 517h1v1h-1zM255 510h1v1h-1zM757 510h1v1h-1zM831 510h1v1h-1zM68 527h1v1h-1zM129 527h1v1h-1zM531 527h1v1h-1zM811 527h1v1h-1zM40 525h1v1h-1zM61 525h1v1h-1zM71 525h1v1h-1zM113 525h1v1h-1zM131 525h1v1h-1zM534 525h1v1h-1zM896 525h1v1h-1zM176 507h1v1h-1zM227 507h1v1h-1zM253 507h1v1h-1zM265 507h1v1h-1zM271 507h1v1h-1zM352 507h1v1h-1zM358 507h1v1h-1zM452 507h1v1h-1zM760 507h1v1h-1zM197 501h1v1h-1zM240 501h1v1h-1zM198 502h1v1h-1zM239 502h1v1h-1zM291 502h1v1h-1zM126 529h1v1h-1z" fill="#1e90ff"/>
</g>
<g shape-rendering="crispEdges" clip-path="url(#cMain)">
<path d="M7 27h1v2h-1zM8 29h1v2h-1zM10 33h1v2h-1zM11 35h1v2h-1zM5 24h1v1h-1zM9 31h1v2h-1zM13 39h1v2h-1zM12 37h1v2h-1zM6 25h1v2h-1zM14 41h1v1h-1z" fill="#ff0000"/>
<path d="M346 139h6v1h-6zM304 133h6v1h-6zM269 135h5v1h-5zM318 135h4v1h-4zM331 135h10v1h-10zM295 129h2v1h-2zM363 129h2v1h-2zM387 129h2v1h-2zM471 160h3v1h-3zM459 165h2v1h-2zM511 165h2v1h-2zM646 269h2v1h-2zM725 289h3v1h-3zM748 289h12v1h-12zM777 289h2v1h-2zM450 170h2v1h-2zM582 263h16v1h-16zM616 263h2v1h-2zM792 297h2v1h-2zM274 134h13v1h-13zM310 134h8v1h-8zM94 175h2v1h-2zM297 130h3v1h-3zM679 284h4v1h-4zM693 290h2v1h-2zM710 290h15v1h-15zM779 290h2v1h-2zM457 166h2v1h-2zM266 136h3v1h-3zM322 136h4v1h-4zM329 136h2v1h-2zM341 136h2v1h-2zM605 260h5v1h-5zM455 167h2v1h-2zM163 270h2v1h-2zM166 270h3v1h-3zM648 270h3v1h-3zM518 172h2v1h-2zM685 286h3v1h-3zM732 286h8v1h-8zM826 322h5v1h-5zM923 366h2v1h-2zM238 142h2v1h-2zM603 261h2v1h-2zM610 261h4v1h-4zM797 299h2v1h-2zM490 156h8v1h-8zM695 291h2v1h-2zM707 291h3v1h-3zM675 282h2v1h-2zM698 293h2v1h-2zM77 158h2v1h-2zM475 158h3v1h-3zM482 158h5v1h-5zM499 158h2v1h-2zM620 265h2v1h-2zM160 268h2v1h-2zM170 268h2v1h-2zM627 268h19v1h-19zM288 132h2v1h-2zM302 132h2v1h-2zM240 141h4v1h-4zM401 141h2v1h-2zM261 138h3v1h-3zM344 138h2v1h-2zM352 138h2v1h-2zM397 138h2v1h-2zM820 320h2v1h-2zM844 320h5v1h-5zM700 294h2v1h-2zM785 294h3v1h-3zM376 125h5v1h-5zM624 267h3v1h-3zM622 266h2v1h-2zM822 321h4v1h-4zM831 321h13v1h-13zM370 126h6v1h-6zM381 126h3v1h-3zM818 319h2v1h-2zM849 319h4v1h-4zM689 288h3v1h-3zM728 288h2v1h-2zM743 288h5v1h-5zM760 288h17v1h-17zM655 273h3v1h-3zM234 144h2v1h-2zM405 144h2v1h-2zM703 292h4v1h-4zM782 292h2v1h-2zM598 262h5v1h-5zM614 262h2v1h-2zM244 140h16v1h-16zM236 143h2v1h-2zM618 264h2v1h-2zM300 131h2v1h-2zM264 137h2v1h-2zM326 137h3v1h-3zM354 137h2v1h-2zM683 285h2v1h-2zM667 277h2v1h-2zM503 161h2v1h-2zM461 164h3v1h-3zM509 164h2v1h-2zM658 274h4v1h-4zM100 180h2v1h-2zM292 128h3v1h-3zM365 128h2v1h-2zM671 279h2v1h-2zM464 163h3v1h-3zM507 163h2v1h-2zM662 275h2v1h-2zM467 162h3v1h-3zM505 162h2v1h-2zM664 276h3v1h-3zM435 176h8v1h-8zM886 324h2v1h-2zM857 316h3v1h-3zM869 308h4v1h-4zM452 169h2v1h-2zM478 157h4v1h-4zM487 157h3v1h-3zM862 313h2v1h-2zM816 318h2v1h-2zM853 318h3v1h-3zM866 310h2v1h-2zM367 127h3v1h-3zM384 127h2v1h-2zM802 302h2v1h-2zM567 247h2v1h-2zM799 300h2v1h-2zM789 296h3v1h-3zM794 298h3v1h-3zM730 287h2v1h-2zM740 287h3v1h-3zM921 365h2v1h-2zM652 272h3v1h-3zM677 283h2v1h-2zM448 171h2v1h-2zM444 174h2v1h-2zM669 278h2v1h-2zM65 137h1v3h-1zM260 139h1v1h-1zM399 139h1v1h-1zM123 216h1v2h-1zM195 216h1v2h-1zM548 217h1v2h-1zM63 132h1v3h-1zM287 133h1v1h-1zM359 133h1v1h-1zM392 133h1v1h-1zM64 135h1v2h-1zM357 135h1v1h-1zM394 135h1v1h-1zM115 206h1v2h-1zM200 205h1v2h-1zM542 205h1v3h-1zM107 190h1v2h-1zM207 191h1v2h-1zM532 191h1v2h-1zM61 128h1v2h-1zM291 129h1v2h-1zM144 250h1v2h-1zM181 250h1v2h-1zM571 250h1v2h-1zM80 160h1v1h-1zM222 160h1v1h-1zM421 160h1v1h-1zM502 160h1v1h-1zM85 165h1v1h-1zM219 165h1v1h-1zM426 165h1v1h-1zM162 269h1v1h-1zM169 269h1v1h-1zM692 289h1v1h-1zM127 224h1v2h-1zM191 225h1v2h-1zM552 225h1v2h-1zM89 170h1v1h-1zM216 170h1v3h-1zM431 170h1v1h-1zM516 170h1v1h-1zM155 263h1v1h-1zM175 263h1v2h-1zM801 301h1v1h-1zM358 134h1v1h-1zM393 134h1v1h-1zM215 173h1v3h-1zM434 174h1v2h-1zM443 175h1v1h-1zM522 175h1v1h-1zM57 121h1v1h-1zM62 130h1v2h-1zM362 130h1v1h-1zM389 130h1v1h-1zM109 194h1v2h-1zM205 195h1v2h-1zM534 194h1v2h-1zM86 166h1v1h-1zM218 166h1v2h-1zM427 166h1v1h-1zM513 166h1v1h-1zM145 252h1v1h-1zM180 252h1v3h-1zM572 252h1v1h-1zM916 358h1v2h-1zM356 136h1v1h-1zM395 136h1v1h-1zM152 260h1v1h-1zM177 259h1v2h-1zM579 260h1v1h-1zM150 258h1v1h-1zM178 257h1v2h-1zM577 258h1v1h-1zM87 167h1v1h-1zM428 167h1v1h-1zM514 167h1v2h-1zM58 122h1v2h-1zM91 172h1v1h-1zM432 171h1v2h-1zM447 172h1v1h-1zM106 187h1v3h-1zM209 187h1v2h-1zM530 186h1v3h-1zM71 149h1v2h-1zM229 150h1v1h-1zM412 150h1v1h-1zM884 322h1v1h-1zM67 142h1v2h-1zM403 142h1v1h-1zM153 261h1v1h-1zM176 261h1v2h-1zM580 261h1v1h-1zM104 183h1v3h-1zM211 183h1v2h-1zM528 182h1v2h-1zM72 151h1v1h-1zM228 151h1v1h-1zM413 151h1v1h-1zM75 156h1v1h-1zM224 156h1v2h-1zM417 155h1v2h-1zM781 291h1v1h-1zM133 236h1v2h-1zM186 237h1v2h-1zM561 237h1v2h-1zM702 293h1v1h-1zM784 293h1v1h-1zM223 158h1v2h-1zM419 158h1v1h-1zM132 234h1v2h-1zM187 234h1v3h-1zM559 235h1v1h-1zM157 265h1v1h-1zM174 265h1v1h-1zM360 132h1v1h-1zM391 132h1v1h-1zM66 140h1v2h-1zM882 320h1v1h-1zM128 226h1v3h-1zM190 227h1v2h-1zM553 227h1v1h-1zM59 124h1v2h-1zM130 231h1v2h-1zM189 229h1v3h-1zM556 231h1v1h-1zM159 267h1v1h-1zM172 267h1v1h-1zM158 266h1v1h-1zM173 266h1v1h-1zM810 309h1v1h-1zM868 309h1v1h-1zM873 309h1v1h-1zM192 222h1v3h-1zM551 223h1v2h-1zM883 321h1v1h-1zM111 198h1v2h-1zM203 199h1v2h-1zM538 199h1v2h-1zM60 126h1v2h-1zM124 218h1v2h-1zM194 218h1v2h-1zM881 319h1v1h-1zM112 200h1v2h-1zM547 215h1v2h-1zM108 192h1v2h-1zM206 193h1v2h-1zM533 193h1v1h-1zM56 119h1v2h-1zM68 144h1v2h-1zM697 292h1v1h-1zM105 186h1v1h-1zM210 185h1v2h-1zM119 211h1v1h-1zM197 211h1v2h-1zM544 209h1v3h-1zM154 262h1v1h-1zM581 262h1v1h-1zM400 140h1v1h-1zM813 314h1v1h-1zM861 314h1v1h-1zM878 314h1v2h-1zM897 335h1v1h-1zM404 143h1v1h-1zM69 146h1v2h-1zM231 147h1v1h-1zM409 147h1v1h-1zM156 264h1v1h-1zM812 312h1v2h-1zM864 312h1v1h-1zM876 312h1v1h-1zM70 148h1v1h-1zM230 148h1v2h-1zM410 148h1v1h-1zM149 256h1v2h-1zM576 257h1v1h-1zM898 336h1v1h-1zM290 131h1v1h-1zM361 131h1v1h-1zM390 131h1v1h-1zM411 149h1v1h-1zM129 229h1v2h-1zM555 229h1v2h-1zM807 306h1v1h-1zM549 219h1v2h-1zM343 137h1v1h-1zM396 137h1v1h-1zM560 236h1v1h-1zM81 161h1v1h-1zM221 161h1v2h-1zM422 161h1v1h-1zM470 161h1v1h-1zM84 164h1v1h-1zM220 163h1v2h-1zM425 164h1v1h-1zM134 238h1v1h-1zM811 310h1v2h-1zM865 311h1v1h-1zM875 311h1v1h-1zM118 210h1v1h-1zM198 209h1v2h-1zM126 222h1v2h-1zM890 327h1v1h-1zM213 179h1v2h-1zM527 180h1v2h-1zM919 362h1v2h-1zM386 128h1v1h-1zM204 197h1v2h-1zM537 198h1v1h-1zM83 163h1v1h-1zM424 163h1v1h-1zM143 249h1v1h-1zM182 247h1v3h-1zM570 249h1v1h-1zM82 162h1v1h-1zM423 162h1v1h-1zM96 176h1v1h-1zM214 176h1v3h-1zM523 176h1v1h-1zM74 154h1v2h-1zM225 154h1v2h-1zM416 154h1v1h-1zM136 240h1v2h-1zM185 239h1v3h-1zM563 241h1v1h-1zM529 184h1v2h-1zM73 152h1v2h-1zM226 153h1v1h-1zM415 153h1v1h-1zM814 315h1v2h-1zM879 316h1v1h-1zM98 178h1v1h-1zM525 178h1v1h-1zM809 308h1v1h-1zM908 348h1v1h-1zM558 233h1v2h-1zM45 103h1v2h-1zM554 228h1v1h-1zM151 259h1v1h-1zM578 259h1v1h-1zM918 361h1v1h-1zM88 168h1v2h-1zM217 168h1v2h-1zM430 169h1v1h-1zM515 169h1v1h-1zM110 196h1v2h-1zM535 196h1v1h-1zM536 197h1v1h-1zM860 315h1v1h-1zM76 157h1v1h-1zM418 157h1v1h-1zM498 157h1v1h-1zM806 305h1v1h-1zM147 254h1v1h-1zM573 253h1v2h-1zM900 338h1v2h-1zM227 152h1v1h-1zM414 152h1v1h-1zM113 202h1v2h-1zM201 203h1v2h-1zM540 202h1v2h-1zM142 248h1v1h-1zM569 248h1v1h-1zM885 323h1v1h-1zM901 340h1v1h-1zM562 239h1v2h-1zM165 271h1v1h-1zM651 271h1v1h-1zM877 313h1v1h-1zM135 239h1v1h-1zM880 317h1v2h-1zM874 310h1v1h-1zM202 201h1v2h-1zM92 173h1v1h-1zM433 173h1v1h-1zM446 173h1v1h-1zM520 173h1v1h-1zM97 177h1v1h-1zM524 177h1v1h-1zM44 102h1v1h-1zM125 220h1v2h-1zM193 220h1v2h-1zM550 221h1v2h-1zM232 146h1v1h-1zM408 146h1v1h-1zM146 253h1v1h-1zM208 189h1v2h-1zM531 189h1v2h-1zM429 168h1v1h-1zM454 168h1v1h-1zM141 247h1v1h-1zM899 337h1v1h-1zM121 213h1v1h-1zM196 213h1v3h-1zM546 213h1v2h-1zM188 232h1v2h-1zM557 232h1v1h-1zM233 145h1v1h-1zM407 145h1v1h-1zM48 107h1v2h-1zM122 214h1v2h-1zM688 287h1v1h-1zM138 243h1v1h-1zM184 242h1v2h-1zM564 242h1v3h-1zM892 329h1v1h-1zM199 207h1v2h-1zM116 208h1v1h-1zM543 208h1v1h-1zM103 182h1v1h-1zM212 181h1v2h-1zM910 350h1v2h-1zM139 244h1v1h-1zM183 244h1v3h-1zM47 106h1v1h-1zM120 212h1v1h-1zM545 212h1v1h-1zM114 204h1v2h-1zM90 171h1v1h-1zM517 171h1v1h-1zM102 181h1v1h-1zM93 174h1v1h-1zM521 174h1v1h-1zM137 242h1v1h-1zM140 245h1v2h-1zM566 246h1v1h-1zM808 307h1v1h-1zM673 280h1v1h-1zM903 342h1v1h-1zM909 349h1v1h-1zM891 328h1v1h-1zM51 112h1v1h-1zM895 333h1v1h-1zM902 341h1v1h-1zM565 245h1v1h-1zM46 105h1v1h-1zM50 110h1v2h-1zM148 255h1v1h-1zM179 255h1v2h-1zM574 255h1v1h-1zM815 317h1v1h-1zM856 317h1v1h-1zM79 159h1v1h-1zM420 159h1v1h-1zM474 159h1v1h-1zM501 159h1v1h-1zM541 204h1v1h-1zM117 209h1v1h-1zM99 179h1v1h-1zM526 179h1v1h-1zM912 353h1v1h-1zM894 331h1v2h-1zM913 354h1v1h-1zM49 109h1v1h-1zM131 233h1v1h-1zM804 303h1v1h-1zM788 295h1v1h-1zM904 343h1v2h-1zM905 345h1v1h-1zM911 352h1v1h-1zM52 113h1v2h-1zM893 330h1v1h-1zM53 115h1v1h-1zM539 201h1v1h-1zM674 281h1v1h-1zM914 355h1v2h-1zM55 118h1v1h-1zM915 357h1v1h-1zM896 334h1v1h-1zM575 256h1v1h-1zM920 364h1v1h-1zM888 325h1v1h-1zM907 347h1v1h-1zM889 326h1v1h-1zM54 116h1v2h-1zM805 304h1v1h-1zM917 360h1v1h-1zM906 346h1v1h-1z" fill="#ff0000"/>
<path d="M3 35h11v1h-11zM14 36h2v1h-2zM18 38h2v1h-2zM22 40h2v1h-2zM16 37h2v1h-2zM20 39h2v1h-2zM24 41h1v1h-1z" fill="#0000ff"/>
<path d="M304 133h11v1h-11zM355 133h2v1h-2zM374 133h4v1h-4zM447 165h17v1h-17zM470 165h2v1h-2zM480 165h21v1h-21zM504 165h20v1h-20zM664 273h3v1h-3zM721 289h6v1h-6zM757 289h2v1h-2zM675 279h2v1h-2zM560 218h2v1h-2zM315 134h3v1h-3zM337 134h18v1h-18zM378 134h14v1h-14zM659 271h3v1h-3zM144 232h2v1h-2zM287 136h2v1h-2zM319 136h12v1h-12zM395 136h4v1h-4zM905 332h2v1h-2zM716 287h2v1h-2zM761 287h15v1h-15zM272 138h14v1h-14zM401 138h3v1h-3zM746 292h7v1h-7zM787 292h3v1h-3zM434 156h2v1h-2zM853 317h19v1h-19zM815 309h20v1h-20zM268 139h4v1h-4zM404 139h2v1h-2zM669 275h2v1h-2zM364 129h3v1h-3zM262 142h2v1h-2zM410 142h3v1h-3zM692 284h17v1h-17zM891 324h5v1h-5zM464 166h6v1h-6zM501 166h3v1h-3zM524 166h2v1h-2zM260 143h2v1h-2zM166 249h2v1h-2zM422 148h2v1h-2zM686 283h6v1h-6zM709 285h4v1h-4zM737 291h9v1h-9zM753 291h2v1h-2zM149 235h2v1h-2zM442 162h2v1h-2zM671 276h2v1h-2zM727 290h10v1h-10zM755 290h2v1h-2zM783 290h3v1h-3zM617 266h12v1h-12zM647 266h3v1h-3zM713 286h3v1h-3zM776 286h2v1h-2zM806 302h2v1h-2zM168 250h4v1h-4zM181 250h2v1h-2zM265 140h3v1h-3zM406 140h3v1h-3zM667 274h2v1h-2zM803 300h2v1h-2zM331 135h6v1h-6zM392 135h3v1h-3zM887 323h4v1h-4zM614 265h3v1h-3zM629 265h3v1h-3zM643 265h4v1h-4zM147 234h2v1h-2zM367 128h3v1h-3zM186 247h2v1h-2zM292 132h12v1h-12zM357 132h2v1h-2zM445 164h2v1h-2zM472 164h8v1h-8zM172 251h9v1h-9zM718 288h3v1h-3zM759 288h2v1h-2zM779 288h3v1h-3zM611 264h3v1h-3zM632 264h11v1h-11zM598 254h2v1h-2zM837 311h3v1h-3zM361 130h3v1h-3zM430 153h2v1h-2zM896 325h3v1h-3zM256 146h2v1h-2zM418 146h3v1h-3zM878 320h3v1h-3zM607 262h3v1h-3zM795 296h3v1h-3zM427 151h2v1h-2zM840 312h2v1h-2zM872 318h3v1h-3zM844 314h3v1h-3zM439 160h2v1h-2zM915 342h2v1h-2zM791 294h3v1h-3zM875 319h3v1h-3zM918 344h2v1h-2zM847 315h2v1h-2zM881 321h3v1h-3zM677 280h2v1h-2zM849 316h4v1h-4zM164 248h2v1h-2zM184 248h2v1h-2zM812 307h2v1h-2zM414 144h3v1h-3zM399 137h2v1h-2zM884 322h3v1h-3zM657 270h2v1h-2zM564 221h2v1h-2zM570 226h2v1h-2zM650 267h2v1h-2zM682 282h4v1h-4zM662 272h2v1h-2zM654 269h3v1h-3zM679 281h3v1h-3zM160 245h2v1h-2zM921 346h2v1h-2zM142 231h2v1h-2zM799 298h3v1h-3zM359 131h2v1h-2zM842 313h2v1h-2zM835 310h2v1h-2zM424 149h2v1h-2zM652 268h2v1h-2zM78 133h1v1h-1zM291 133h1v1h-1zM101 165h1v1h-1zM241 165h1v1h-1zM124 199h1v2h-1zM218 200h1v1h-1zM549 200h1v1h-1zM782 289h1v1h-1zM135 218h1v2h-1zM207 217h1v2h-1zM79 134h1v2h-1zM290 134h1v1h-1zM122 195h1v2h-1zM221 195h1v2h-1zM545 194h1v2h-1zM903 330h1v1h-1zM199 232h1v2h-1zM577 232h1v1h-1zM80 136h1v2h-1zM778 287h1v1h-1zM81 138h1v1h-1zM546 196h1v1h-1zM90 154h1v1h-1zM248 154h1v1h-1zM432 154h1v1h-1zM156 241h1v1h-1zM192 241h1v2h-1zM586 241h1v1h-1zM92 156h1v1h-1zM247 155h1v2h-1zM89 152h1v2h-1zM250 152h1v1h-1zM429 152h1v1h-1zM82 139h1v2h-1zM75 128h1v2h-1zM370 129h1v1h-1zM83 141h1v2h-1zM112 178h1v2h-1zM233 178h1v2h-1zM533 178h1v2h-1zM91 155h1v1h-1zM433 155h1v1h-1zM72 123h1v2h-1zM102 166h1v1h-1zM240 166h1v2h-1zM84 143h1v2h-1zM413 143h1v1h-1zM183 249h1v1h-1zM593 249h1v1h-1zM87 148h1v2h-1zM254 148h1v1h-1zM68 115h1v2h-1zM111 176h1v2h-1zM234 176h1v2h-1zM531 175h1v2h-1zM97 161h1v1h-1zM244 160h1v2h-1zM441 161h1v1h-1zM786 291h1v1h-1zM69 117h1v2h-1zM109 174h1v1h-1zM235 174h1v2h-1zM530 173h1v2h-1zM137 222h1v2h-1zM204 223h1v2h-1zM567 223h1v1h-1zM197 235h1v1h-1zM580 235h1v1h-1zM98 162h1v1h-1zM243 162h1v1h-1zM594 250h1v1h-1zM93 157h1v1h-1zM246 157h1v2h-1zM436 157h1v1h-1zM140 227h1v3h-1zM202 227h1v2h-1zM573 228h1v1h-1zM110 175h1v1h-1zM902 329h1v1h-1zM105 169h1v1h-1zM238 169h1v2h-1zM527 169h1v1h-1zM808 303h1v1h-1zM114 182h1v2h-1zM230 183h1v1h-1zM536 182h1v2h-1zM121 193h1v2h-1zM223 193h1v1h-1zM544 193h1v1h-1zM155 240h1v1h-1zM193 240h1v1h-1zM585 240h1v1h-1zM86 146h1v2h-1zM255 147h1v1h-1zM421 147h1v1h-1zM222 194h1v1h-1zM159 244h1v1h-1zM190 244h1v1h-1zM589 244h1v1h-1zM289 135h1v1h-1zM318 135h1v1h-1zM198 234h1v1h-1zM579 234h1v1h-1zM264 141h1v1h-1zM409 141h1v1h-1zM163 247h1v1h-1zM592 247h1v2h-1zM127 205h1v2h-1zM214 206h1v1h-1zM553 206h1v1h-1zM136 220h1v2h-1zM206 219h1v2h-1zM563 220h1v1h-1zM77 131h1v2h-1zM373 132h1v1h-1zM100 164h1v1h-1zM242 163h1v2h-1zM65 109h1v2h-1zM103 167h1v1h-1zM526 167h1v2h-1zM595 251h1v1h-1zM113 180h1v2h-1zM232 180h1v1h-1zM534 180h1v1h-1zM108 173h1v1h-1zM236 172h1v2h-1zM219 198h1v2h-1zM548 198h1v2h-1zM572 227h1v1h-1zM104 168h1v1h-1zM239 168h1v1h-1zM600 255h1v1h-1zM920 345h1v1h-1zM562 219h1v1h-1zM85 145h1v1h-1zM258 145h1v1h-1zM417 145h1v1h-1zM215 204h1v2h-1zM552 204h1v2h-1zM76 130h1v1h-1zM371 130h1v1h-1zM249 153h1v1h-1zM201 229h1v2h-1zM574 229h1v1h-1zM71 121h1v2h-1zM107 172h1v1h-1zM529 172h1v1h-1zM106 170h1v2h-1zM237 171h1v1h-1zM528 170h1v2h-1zM125 201h1v2h-1zM217 201h1v2h-1zM550 201h1v2h-1zM532 177h1v1h-1zM88 150h1v2h-1zM251 151h1v1h-1zM64 106h1v3h-1zM141 230h1v1h-1zM575 230h1v1h-1zM96 160h1v1h-1zM120 191h1v2h-1zM224 191h1v2h-1zM542 190h1v2h-1zM126 203h1v2h-1zM610 263h1v1h-1zM908 334h1v1h-1zM123 197h1v2h-1zM74 126h1v2h-1zM133 215h1v1h-1zM208 215h1v2h-1zM558 214h1v2h-1zM606 261h1v1h-1zM67 113h1v2h-1zM252 150h1v1h-1zM426 150h1v1h-1zM814 308h1v1h-1zM70 119h1v2h-1zM138 224h1v2h-1zM203 225h1v2h-1zM569 225h1v1h-1zM674 278h1v1h-1zM151 236h1v1h-1zM196 236h1v2h-1zM581 236h1v1h-1zM154 239h1v1h-1zM194 239h1v1h-1zM584 239h1v1h-1zM904 331h1v1h-1zM220 197h1v1h-1zM547 197h1v1h-1zM162 246h1v1h-1zM188 246h1v1h-1zM591 246h1v1h-1zM157 242h1v1h-1zM587 242h1v1h-1zM158 243h1v1h-1zM191 243h1v1h-1zM588 243h1v1h-1zM259 144h1v1h-1zM673 277h1v1h-1zM66 111h1v2h-1zM286 137h1v1h-1zM568 224h1v1h-1zM99 163h1v1h-1zM444 163h1v1h-1zM205 221h1v2h-1zM231 181h1v2h-1zM139 226h1v1h-1zM129 208h1v2h-1zM212 209h1v1h-1zM555 208h1v2h-1zM809 304h1v1h-1zM132 213h1v2h-1zM209 213h1v2h-1zM130 210h1v2h-1zM211 210h1v2h-1zM556 210h1v2h-1zM911 338h1v1h-1zM189 245h1v1h-1zM590 245h1v1h-1zM94 158h1v1h-1zM437 158h1v1h-1zM535 181h1v1h-1zM134 216h1v2h-1zM559 216h1v2h-1zM117 187h1v1h-1zM227 187h1v1h-1zM539 186h1v2h-1zM128 207h1v1h-1zM213 207h1v2h-1zM554 207h1v1h-1zM557 212h1v2h-1zM601 256h1v1h-1zM910 336h1v2h-1zM153 238h1v1h-1zM195 238h1v1h-1zM583 238h1v1h-1zM146 233h1v1h-1zM578 233h1v1h-1zM805 301h1v1h-1zM899 326h1v1h-1zM200 231h1v1h-1zM576 231h1v1h-1zM152 237h1v1h-1zM582 237h1v1h-1zM131 212h1v1h-1zM210 212h1v1h-1zM372 131h1v1h-1zM909 335h1v1h-1zM118 188h1v2h-1zM226 188h1v2h-1zM541 189h1v1h-1zM596 252h1v1h-1zM115 184h1v1h-1zM229 184h1v1h-1zM537 184h1v1h-1zM597 253h1v1h-1zM790 293h1v1h-1zM917 343h1v1h-1zM116 185h1v2h-1zM228 185h1v2h-1zM538 185h1v1h-1zM62 102h1v2h-1zM253 149h1v1h-1zM540 188h1v1h-1zM566 222h1v1h-1zM811 306h1v1h-1zM216 203h1v1h-1zM551 203h1v1h-1zM603 258h1v1h-1zM912 339h1v1h-1zM913 340h1v1h-1zM95 159h1v1h-1zM245 159h1v1h-1zM438 159h1v1h-1zM810 305h1v1h-1zM119 190h1v1h-1zM225 190h1v1h-1zM63 104h1v2h-1zM602 257h1v1h-1zM900 327h1v1h-1zM901 328h1v1h-1zM543 192h1v1h-1zM802 299h1v1h-1zM798 297h1v1h-1zM794 295h1v1h-1zM907 333h1v1h-1zM73 125h1v1h-1zM914 341h1v1h-1zM604 259h1v1h-1zM605 260h1v1h-1z" fill="#0000ff"/>
</g>
<g shape-rendering="crispEdges">
<rect x="2" y="164" width="1163" height="2" fill="#ff0000" />
<rect x="2" y="162" width="6" height="6" fill="#ff0000" />
<rect x="4" y="164" width="2" height="2" fill="#fff" />
<rect x="1159" y="162" width="6" height="6" fill="#ff0000" />
<rect x="1161" y="164" width="2" height="2" fill="#fff" />
<rect x="2" y="233" width="1163" height="2" fill="#ff0000" />
<rect x="2" y="231" width="6" height="6" fill="#ff0000" />
<rect x="4" y="233" width="2" height="2" fill="#fff" />
<rect x="1159" y="231" width="6" height="6" fill="#ff0000" />
<rect x="1161" y="233" width="2" height="2" fill="#fff" />
<rect x="2" y="301" width="1163" height="2" fill="#00ff00" />
<rect x="2" y="299" width="6" height="6" fill="#00ff00" />
<rect x="4" y="301" width="2" height="2" fill="#fff" />
<rect x="1159" y="299" width="6" height="6" fill="#00ff00" />
<rect x="1161" y="301" width="2" height="2" fill="#fff" />
<rect x="2" y="369" width="1163" height="2" fill="#0000ff" />
<rect x="2" y="367" width="6" height="6" fill="#0000ff" />
<rect x="4" y="369" width="2" height="2" fill="#fff" />
<rect x="1159" y="367" width="6" height="6" fill="#0000ff" />
<rect x="1161" y="369" width="2" height="2" fill="#fff" />
<rect x="1167" y="362" width="39" height="2" fill="#000" />
<rect x="1167" y="159" width="39" height="11" fill="#ff0000" />
<rect x="1167" y="228" width="39" height="11" fill="#ff0000" />
<rect x="1167" y="296" width="39" height="11" fill="#00ff00" />
<rect x="1167" y="364" width="39" height="11" fill="#0000ff" />
</g>
<text x="1171" y="168" font-size="10.4" fill="#fff" textLength="33" lengthAdjust="spacingAndGlyphs"  stroke="#fff" stroke-width="0.1">6.45527</text>
<text x="1171" y="237" font-size="10.4" fill="#fff" textLength="33" lengthAdjust="spacingAndGlyphs"  stroke="#fff" stroke-width="0.1">6.41013</text>
<text x="1171" y="305" font-size="10.4" fill="#fff" textLength="33" lengthAdjust="spacingAndGlyphs"  stroke="#fff" stroke-width="0.1">6.36500</text>
<text x="1171" y="373" font-size="10.4" fill="#fff" textLength="33" lengthAdjust="spacingAndGlyphs"  stroke="#fff" stroke-width="0.1">6.32060</text>
<g shape-rendering="crispEdges" clip-path="url(#cMain)">
<rect x="3" y="43" width="1" height="25" fill="#ff0000" />
<path d="M11 103h1V118h-1zM15 103h1V119h-1zM14 103h3V112h-3zM23 103h1V122h-1zM22 105h3V119h-3zM27 113h1V144h-1zM26 116h3V137h-3zM35 118h1V148h-1zM34 124h3V140h-3zM39 138h1V158h-1zM38 138h3V154h-3zM47 124h1V148h-1zM46 141h3V144h-3zM59 120h1V156h-1zM58 122h3V152h-3zM63 148h1V228h-1zM62 151h3V223h-3zM79 161h1V186h-1zM78 167h3V177h-3zM83 172h1V203h-1zM82 176h3V193h-3zM91 186h1V224h-1zM90 188h3V214h-3zM99 187h1V205h-1zM98 188h3V201h-3zM107 188h1V238h-1zM106 197h3V231h-3zM111 228h1V264h-1zM110 230h3V236h-3zM115 235h1V287h-1zM114 235h3V273h-3zM119 262h1V301h-1zM118 272h3V285h-3zM123 279h1V315h-1zM122 284h3V312h-3zM127 289h1V324h-1zM126 296h3V301h-3zM143 235h1V273h-1zM142 251h3V266h-3zM147 252h1V276h-1zM146 263h3V270h-3zM155 249h1V279h-1zM154 250h3V269h-3zM159 259h1V285h-1zM158 269h3V275h-3zM171 235h1V251h-1zM170 238h3V242h-3zM199 120h1V151h-1zM198 131h3V144h-3zM203 141h1V173h-1zM202 143h3V158h-3zM223 113h1V147h-1zM222 139h3V142h-3zM227 136h1V162h-1zM226 142h3V155h-3zM235 124h1V152h-1zM234 132h3V138h-3zM243 99h1V128h-1zM242 113h3V127h-3zM247 125h1V141h-1zM246 132h3V136h-3zM255 122h1V175h-1zM254 128h3V156h-3zM271 106h1V129h-1zM270 107h3V123h-3zM275 119h1V161h-1zM274 122h3V153h-3zM295 65h1V126h-1zM294 66h3V118h-3zM299 109h1V166h-1zM298 117h3V161h-3zM307 141h1V161h-1zM306 150h3V155h-3zM315 149h1V170h-1zM314 152h3V156h-3zM319 151h1V169h-1zM318 155h3V160h-3zM335 110h1V141h-1zM334 119h3V134h-3zM343 121h1V137h-1zM342 132h3V137h-3zM347 127h1V142h-1zM346 129h3V137h-3zM355 109h1V130h-1zM354 111h3V122h-3zM363 83h1V105h-1zM362 100h3V101h-3zM367 98h1V138h-1zM366 99h3V132h-3zM371 121h1V153h-1zM370 129h3V146h-3zM383 120h1V162h-1zM382 126h3V157h-3zM391 141h1V180h-1zM390 151h3V170h-3zM395 154h1V180h-1zM394 169h3V173h-3zM399 161h1V180h-1zM398 172h3V177h-3zM403 164h1V215h-1zM402 176h3V194h-3zM415 154h1V172h-1zM414 156h3V163h-3zM419 156h1V182h-1zM418 162h3V174h-3zM423 167h1V212h-1zM422 173h3V188h-3zM431 179h1V207h-1zM430 185h3V195h-3zM435 185h1V215h-1zM434 194h3V208h-3zM455 118h1V171h-1zM454 123h3V144h-3zM459 137h1V172h-1zM458 143h3V156h-3zM467 146h1V171h-1zM466 158h3V161h-3zM479 130h1V183h-1zM478 132h3V177h-3zM483 157h1V209h-1zM482 176h3V204h-3zM491 160h1V188h-1zM490 176h3V178h-3zM499 164h1V179h-1zM498 167h3V175h-3zM503 170h1V188h-1zM502 174h3V185h-3zM511 153h1V177h-1zM510 162h3V167h-3zM515 166h1V214h-1zM514 167h3V209h-3zM523 193h1V218h-1zM522 197h3V200h-3zM527 192h1V214h-1zM526 202h3V208h-3zM531 207h1V298h-1zM530 208h3V289h-3zM543 254h1V286h-1zM542 260h3V276h-3zM547 268h1V290h-1zM546 277h3V282h-3zM551 273h1V289h-1zM550 280h3V284h-3zM559 244h1V273h-1zM558 259h3V269h-3zM567 237h1V263h-1zM566 240h3V259h-3zM575 241h1V265h-1zM574 247h3V263h-3zM587 252h1V275h-1zM586 256h3V269h-3zM591 254h1V274h-1zM590 268h3V272h-3zM599 239h1V275h-1zM598 251h3V264h-3zM603 260h1V296h-1zM602 262h3V279h-3zM615 261h1V294h-1zM614 264h3V289h-3zM627 258h1V287h-1zM626 262h3V270h-3zM639 257h1V274h-1zM638 258h3V267h-3zM647 258h1V281h-1zM646 259h3V275h-3zM651 274h1V308h-1zM650 274h3V300h-3zM671 287h1V311h-1zM670 289h3V306h-3zM675 303h1V357h-1zM674 305h3V335h-3zM683 267h1V306h-1zM682 285h3V287h-3zM687 286h1V306h-1zM686 289h3V292h-3zM691 288h1V301h-1zM690 289h3V294h-3zM707 266h1V281h-1zM706 269h3V277h-3zM711 274h1V290h-1zM710 276h3V287h-3zM715 279h1V291h-1zM714 286h3V287h-3zM719 281h1V292h-1zM718 286h3V289h-3zM723 282h1V292h-1zM722 288h3V290h-3zM731 285h1V297h-1zM730 291h3V294h-3zM735 290h1V302h-1zM734 291h3V299h-3zM743 283h1V346h-1zM742 288h3V306h-3zM755 286h1V302h-1zM754 289h3V291h-3zM763 262h1V286h-1zM762 264h3V278h-3zM767 272h1V287h-1zM766 278h3V282h-3zM771 275h1V288h-1zM770 280h3V285h-3zM775 285h1V313h-1zM774 285h3V308h-3zM779 298h1V316h-1zM778 306h3V308h-3zM783 302h1V339h-1zM782 307h3V318h-3zM787 304h1V330h-1zM786 318h3V326h-3zM795 308h1V331h-1zM794 312h3V324h-3zM799 322h1V340h-1zM798 323h3V330h-3zM803 323h1V346h-1zM802 329h3V339h-3zM807 339h1V366h-1zM806 341h3V353h-3zM811 344h1V360h-1zM810 352h3V357h-3zM831 290h1V306h-1zM830 294h3V298h-3zM835 288h1V320h-1zM834 297h3V315h-3zM839 295h1V327h-1zM838 315h3V325h-3zM855 295h1V313h-1zM854 300h3V308h-3zM867 300h1V321h-1zM866 301h3V317h-3zM871 313h1V355h-1zM870 316h3V345h-3zM875 339h1V358h-1zM874 344h3V355h-3zM883 348h1V377h-1zM882 351h3V365h-3zM891 335h1V375h-1zM890 360h3V368h-3zM895 359h1V392h-1zM894 367h3V384h-3zM903 367h1V391h-1zM902 368h3V387h-3zM907 367h1V393h-1zM906 371h3V385h-3zM919 362h1V374h-1zM918 368h3V370h-3z" fill="#32cd32"/>
<path d="M19 103h1V130h-1zM18 106h3V112h-3zM31 120h1V140h-1zM30 125h3V137h-3zM43 139h1V158h-1zM42 140h3V154h-3zM51 112h1V144h-1zM50 124h3V144h-3zM55 109h1V133h-1zM54 122h3V125h-3zM67 206h1V246h-1zM66 218h3V229h-3zM71 202h1V228h-1zM70 207h3V219h-3zM75 157h1V214h-1zM74 167h3V208h-3zM87 175h1V194h-1zM86 188h3V192h-3zM95 188h1V218h-1zM94 188h3V214h-3zM103 188h1V210h-1zM102 195h3V201h-3zM131 273h1V312h-1zM130 279h3V301h-3zM135 264h1V286h-1zM134 276h3V280h-3zM139 250h1V284h-1zM138 253h3V277h-3zM151 248h1V274h-1zM150 250h3V270h-3zM163 251h1V282h-1zM162 259h3V275h-3zM167 221h1V258h-1zM166 238h3V258h-3zM175 187h1V266h-1zM174 192h3V241h-3zM179 152h1V219h-1zM178 172h3V192h-3zM183 155h1V189h-1zM182 163h3V173h-3zM187 130h1V173h-1zM186 148h3V169h-3zM191 120h1V156h-1zM190 135h3V150h-3zM195 107h1V142h-1zM194 131h3V136h-3zM207 146h1V164h-1zM206 158h3V162h-3zM211 141h1V164h-1zM210 152h3V158h-3zM215 146h1V163h-1zM214 147h3V152h-3zM219 137h1V156h-1zM218 139h3V149h-3zM231 120h1V163h-1zM230 133h3V154h-3zM239 99h1V140h-1zM238 113h3V138h-3zM251 126h1V151h-1zM250 128h3V136h-3zM259 142h1V164h-1zM258 154h3V157h-3zM263 125h1V156h-1zM262 138h3V155h-3zM267 102h1V136h-1zM266 107h3V135h-3zM279 132h1V155h-1zM278 138h3V153h-3zM283 119h1V146h-1zM282 136h3V138h-3zM287 107h1V135h-1zM286 127h3V135h-3zM291 55h1V133h-1zM290 66h3V128h-3zM303 140h1V174h-1zM302 151h3V161h-3zM311 146h1V160h-1zM310 152h3V155h-3zM323 123h1V160h-1zM322 132h3V160h-3zM327 117h1V140h-1zM326 122h3V127h-3zM331 116h1V132h-1zM330 119h3V124h-3zM339 126h1V139h-1zM338 132h3V135h-3zM351 104h1V137h-1zM350 111h3V136h-3zM359 92h1V122h-1zM358 100h3V122h-3zM375 131h1V149h-1zM374 144h3V146h-3zM379 121h1V145h-1zM378 126h3V145h-3zM387 146h1V158h-1zM386 151h3V156h-3zM407 167h1V194h-1zM406 176h3V194h-3zM411 152h1V179h-1zM410 158h3V177h-3zM427 169h1V190h-1zM426 186h3V190h-3zM439 167h1V209h-1zM438 170h3V208h-3zM443 141h1V184h-1zM442 144h3V171h-3zM447 117h1V144h-1zM446 127h3V140h-3zM451 118h1V142h-1zM450 122h3V128h-3zM463 140h1V166h-1zM462 153h3V156h-3zM471 142h1V171h-1zM470 143h3V161h-3zM475 129h1V152h-1zM474 132h3V144h-3zM487 161h1V191h-1zM486 175h3V187h-3zM495 144h1V181h-1zM494 167h3V178h-3zM507 160h1V196h-1zM506 161h3V182h-3zM519 190h1V214h-1zM518 197h3V208h-3zM535 258h1V292h-1zM534 262h3V288h-3zM539 251h1V277h-1zM538 260h3V262h-3zM555 256h1V288h-1zM554 260h3V283h-3zM563 235h1V279h-1zM562 239h3V268h-3zM571 244h1V264h-1zM570 249h3V259h-3zM579 248h1V266h-1zM578 258h3V264h-3zM583 240h1V261h-1zM582 254h3V259h-3zM595 248h1V274h-1zM594 252h3V270h-3zM607 274h1V292h-1zM606 278h3V285h-3zM611 254h1V310h-1zM610 265h3V279h-3zM619 267h1V292h-1zM618 282h3V289h-3zM623 258h1V283h-1zM622 265h3V283h-3zM631 259h1V277h-1zM630 264h3V268h-3zM635 253h1V272h-1zM634 259h3V266h-3zM643 251h1V270h-1zM642 254h3V268h-3zM655 289h1V308h-1zM654 295h3V300h-3zM659 285h1V299h-1zM658 293h3V295h-3zM663 281h1V301h-1zM662 291h3V292h-3zM667 282h1V300h-1zM666 289h3V291h-3zM679 275h1V343h-1zM678 286h3V334h-3zM695 280h1V299h-1zM694 288h3V294h-3zM699 280h1V296h-1zM698 284h3V287h-3zM703 260h1V290h-1zM702 273h3V282h-3zM727 286h1V298h-1zM726 291h3V294h-3zM739 282h1V302h-1zM738 287h3V299h-3zM747 288h1V325h-1zM746 295h3V312h-3zM751 276h1V296h-1zM750 289h3V296h-3zM759 254h1V294h-1zM758 264h3V290h-3zM791 308h1V342h-1zM790 313h3V325h-3zM815 343h1V368h-1zM814 348h3V357h-3zM819 288h1V349h-1zM818 298h3V349h-3zM823 291h1V316h-1zM822 295h3V298h-3zM827 272h1V305h-1zM826 293h3V302h-3zM843 298h1V329h-1zM842 307h3V324h-3zM847 298h1V317h-1zM846 310h3V312h-3zM851 287h1V317h-1zM850 300h3V310h-3zM859 298h1V325h-1zM858 304h3V308h-3zM863 297h1V321h-1zM862 299h3V305h-3zM879 344h1V361h-1zM878 351h3V355h-3zM887 356h1V375h-1zM886 360h3V364h-3zM899 350h1V395h-1zM898 369h3V383h-3zM911 371h1V393h-1zM910 376h3V384h-3zM915 355h1V386h-1zM914 368h3V376h-3zM923 362h1V371h-1zM922 366h3V370h-3z" fill="#ff0000"/>
<path d="M19 107h1V111h-1zM31 126h1V136h-1zM43 141h1V153h-1zM51 125h1V143h-1zM55 123h1V124h-1zM67 219h1V228h-1zM71 208h1V218h-1zM75 168h1V207h-1zM87 189h1V191h-1zM95 189h1V213h-1zM103 196h1V200h-1zM131 280h1V300h-1zM135 277h1V279h-1zM139 254h1V276h-1zM151 251h1V269h-1zM163 260h1V274h-1zM167 239h1V257h-1zM175 193h1V240h-1zM179 173h1V191h-1zM183 164h1V172h-1zM187 149h1V168h-1zM191 136h1V149h-1zM195 132h1V135h-1zM207 159h1V161h-1zM211 153h1V157h-1zM215 148h1V151h-1zM219 140h1V148h-1zM231 134h1V153h-1zM239 114h1V137h-1zM251 129h1V135h-1zM259 155h1V156h-1zM263 139h1V154h-1zM267 108h1V134h-1zM279 139h1V152h-1zM287 128h1V134h-1zM291 67h1V127h-1zM303 152h1V160h-1zM311 153h1V154h-1zM323 133h1V159h-1zM327 123h1V126h-1zM331 120h1V123h-1zM339 133h1V134h-1zM351 112h1V135h-1zM359 101h1V121h-1zM379 127h1V144h-1zM387 152h1V155h-1zM407 177h1V193h-1zM411 159h1V176h-1zM427 187h1V189h-1zM439 171h1V207h-1zM443 145h1V170h-1zM447 128h1V139h-1zM451 123h1V127h-1zM463 154h1V155h-1zM471 144h1V160h-1zM475 133h1V143h-1zM487 176h1V186h-1zM495 168h1V177h-1zM507 162h1V181h-1zM519 198h1V207h-1zM535 263h1V287h-1zM555 261h1V282h-1zM563 240h1V267h-1zM571 250h1V258h-1zM579 259h1V263h-1zM583 255h1V258h-1zM595 253h1V269h-1zM607 279h1V284h-1zM611 266h1V278h-1zM619 283h1V288h-1zM623 266h1V282h-1zM631 265h1V267h-1zM635 260h1V265h-1zM643 255h1V267h-1zM655 296h1V299h-1zM679 287h1V333h-1zM695 289h1V293h-1zM699 285h1V286h-1zM703 274h1V281h-1zM727 292h1V293h-1zM739 288h1V298h-1zM747 296h1V311h-1zM751 290h1V295h-1zM759 265h1V289h-1zM791 314h1V324h-1zM815 349h1V356h-1zM819 299h1V348h-1zM823 296h1V297h-1zM827 294h1V301h-1zM843 308h1V323h-1zM851 301h1V309h-1zM859 305h1V307h-1zM863 300h1V304h-1zM879 352h1V354h-1zM887 361h1V363h-1zM899 370h1V382h-1zM911 377h1V383h-1zM915 369h1V375h-1zM923 367h1V369h-1z" fill="#ff4500"/>
</g>
<path d="M9.5 31L13 35H6Z" fill="#000" shape-rendering="crispEdges"/>
<text x="18" y="36" font-size="10.4" fill="#000" textLength="68.5" lengthAdjust="spacingAndGlyphs"  stroke="#000" stroke-width="0.1">USDCNH-,Daily</text>
<text x="93" y="36" font-size="10.4" fill="#000" textLength="32.7" lengthAdjust="spacingAndGlyphs"  stroke="#000" stroke-width="0.1">6.32126</text>
<text x="129.2" y="36" font-size="10.4" fill="#000" textLength="32.7" lengthAdjust="spacingAndGlyphs"  stroke="#000" stroke-width="0.1">6.32585</text>
<text x="165" y="36" font-size="10.4" fill="#000" textLength="32.7" lengthAdjust="spacingAndGlyphs"  stroke="#000" stroke-width="0.1">6.32072</text>
<text x="201" y="36" font-size="10.4" fill="#000" textLength="32.7" lengthAdjust="spacingAndGlyphs"  stroke="#000" stroke-width="0.1">6.32270</text>
<text x="7.5" y="418.5" font-size="10.4" fill="#000" textLength="153" lengthAdjust="spacingAndGlyphs"  stroke="#000" stroke-width="0.1">MACD(12,26,9) -0.010689 -0.011416</text>
<text x="7.5" y="489" font-size="10.4" fill="#000" textLength="67" lengthAdjust="spacingAndGlyphs"  stroke="#000" stroke-width="0.1">RSI(14) 41.5918</text>
<g shape-rendering="crispEdges">
<rect x="6" y="68" width="109" height="33" fill="url(#gPan)" />
<rect x="117" y="68" width="108" height="33" fill="url(#gPan)" />
<rect x="6" y="44" width="52" height="24" fill="url(#gTab)" />
<rect x="173" y="44" width="52" height="24" fill="url(#gTab)" />
<path d="M6.5 101V44.5H57.5V68" fill="none" stroke="#c01010" stroke-width="1"/>
<path d="M173.5 68V44.5H224.5V101" fill="none" stroke="#c01010" stroke-width="1"/>
<rect x="10" y="67" width="44" height="1" fill="#a00404" />
<rect x="177" y="67" width="44" height="1" fill="#a00404" />
<rect x="10" y="68" width="44" height="1" fill="#e45a5a" />
<rect x="177" y="68" width="44" height="1" fill="#e45a5a" />
<rect x="60" y="44" width="111" height="22" fill="#b8b8b8" />
<rect x="61" y="45" width="109" height="20" fill="#fff" />
<rect x="62" y="46" width="19" height="18" fill="url(#gBtn)" />
<rect x="81" y="45" width="1" height="20" fill="#c8c8c8" />
<rect x="150" y="46" width="19" height="18" fill="url(#gBtn)" />
<rect x="149" y="45" width="1" height="20" fill="#c8c8c8" />
</g>
<path d="M68 53h5.4l-2.7 3.2z" fill="#3c55b5"/>
<path d="M157 56.5h5.4l-2.7 -3.2z" fill="#3c55b5"/>
<text x="122.5" y="59.5" font-size="12" fill="#000" textLength="23" lengthAdjust="spacingAndGlyphs" >1.00</text>
<text x="18.5" y="60" font-size="12.5" fill="#fff" textLength="25.5" lengthAdjust="spacingAndGlyphs" >SELL</text>
<text x="186.5" y="60" font-size="12.5" fill="#fff" textLength="22.5" lengthAdjust="spacingAndGlyphs" >BUY</text>
<text x="25.8" y="95.7" font-size="12" fill="#fff" textLength="24" lengthAdjust="spacingAndGlyphs" font-weight="bold" >6.32</text>
<text x="135.8" y="95.7" font-size="12" fill="#fff" textLength="24" lengthAdjust="spacingAndGlyphs" font-weight="bold" >6.32</text>
<text x="53.6" y="96.3" font-size="35" fill="#fff" textLength="35" lengthAdjust="spacingAndGlyphs" stroke="url(#gPanU)" stroke-width="0.4">27</text>
<text x="163.4" y="96.3" font-size="35" fill="#fff" textLength="36" lengthAdjust="spacingAndGlyphs" stroke="url(#gPanU)" stroke-width="0.4">46</text>
<text x="93" y="80.2" font-size="12.5" fill="#fff" textLength="7.2" lengthAdjust="spacingAndGlyphs" font-weight="bold" >0</text>
<text x="203.7" y="80.2" font-size="12.5" fill="#fff" textLength="7.2" lengthAdjust="spacingAndGlyphs" font-weight="bold" >6</text>
<g shape-rendering="crispEdges">
<rect x="0" y="569" width="1206" height="1" fill="#d4d4d4" />
<rect x="0" y="572" width="1206" height="20" fill="#f0f0f0" />
<rect x="0" y="592" width="1206" height="2" fill="#fafafa" />
<rect x="537" y="570" width="110" height="19" fill="#fff" />
<path d="M0 571.5H536.5V589.5H647.5V571.5H1206" fill="none" stroke="#000" stroke-width="1"/>
<rect x="104" y="574" width="1" height="13" fill="#808080" />
<rect x="212" y="574" width="1" height="13" fill="#808080" />
<rect x="320" y="574" width="1" height="13" fill="#808080" />
<rect x="428" y="574" width="1" height="13" fill="#808080" />
<rect x="748" y="574" width="1" height="13" fill="#808080" />
<rect x="828" y="574" width="1" height="13" fill="#808080" />
<rect x="916" y="574" width="1" height="13" fill="#808080" />
<rect x="1000" y="574" width="1" height="13" fill="#808080" />
<rect x="1080" y="574" width="1" height="13" fill="#808080" />
</g>
<text x="15.3" y="585.5" font-size="12" fill="#707070" textLength="77.2" lengthAdjust="spacingAndGlyphs" >USDX,Weekly</text>
<text x="115.6" y="585.5" font-size="12" fill="#707070" textLength="84.2" lengthAdjust="spacingAndGlyphs" >EURUSD-,Daily</text>
<text x="222.1" y="585.5" font-size="12" fill="#707070" textLength="86.7" lengthAdjust="spacingAndGlyphs" >AUDUSD-,Daily</text>
<text x="332.6" y="585.5" font-size="12" fill="#707070" textLength="83" lengthAdjust="spacingAndGlyphs" >USDCHF-,Daily</text>
<text x="440" y="585.5" font-size="12" fill="#707070" textLength="85.5" lengthAdjust="spacingAndGlyphs" >USDCAD-,Daily</text>
<text x="659" y="585.5" font-size="12" fill="#707070" textLength="76.7" lengthAdjust="spacingAndGlyphs" >XAUUSD-,M5</text>
<text x="759.6" y="585.5" font-size="12" fill="#707070" textLength="56.2" lengthAdjust="spacingAndGlyphs" >UKOil-,H4</text>
<text x="840.1" y="585.5" font-size="12" fill="#707070" textLength="64" lengthAdjust="spacingAndGlyphs" >DJ30-,Daily</text>
<text x="927.6" y="585.5" font-size="12" fill="#707070" textLength="60.5" lengthAdjust="spacingAndGlyphs" >UK100-,H1</text>
<text x="1012.5" y="585.5" font-size="12" fill="#707070" textLength="55.2" lengthAdjust="spacingAndGlyphs" >USOil-,H1</text>
<text x="548.2" y="585.5" font-size="12" fill="#000" textLength="87.6" lengthAdjust="spacingAndGlyphs" >USDCNH-,Daily</text>
<path d="M1184.5 576.5v7l-4-3.5z" fill="#959595"/><path d="M1199.5 576.5v7l4-3.5z" fill="#959595"/>
</svg></body></html>
